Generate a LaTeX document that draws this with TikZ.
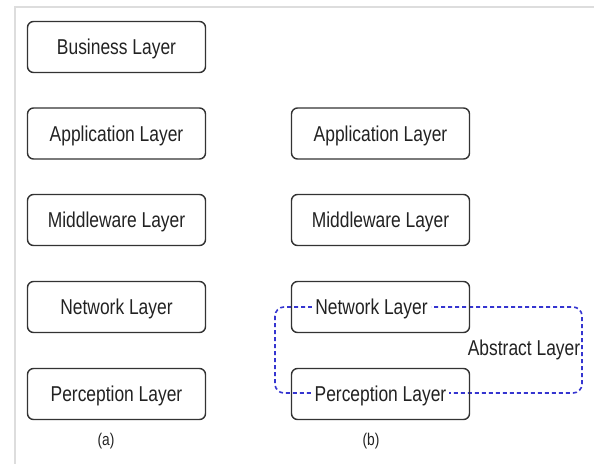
\documentclass[tikz,border=0pt]{standalone}
\usepackage{fontspec}
\setmainfont[FakeStretch=0.81]{Liberation Sans}
\definecolor{frameGray}{HTML}{DDDDDD}
\definecolor{boxLine}{HTML}{333333}
\definecolor{textDark}{HTML}{222222}
\definecolor{abstractBlue}{HTML}{3535D0}
\newcommand{\masked}[1]{{\setlength{\fboxsep}{3pt}\colorbox{white}{\vphantom{A}#1}}}
\begin{document}
\begin{tikzpicture}[x=1pt,y=-1pt,
  layer/.style={draw=boxLine, line width=1.4pt, rounded corners=6pt,
    minimum width=178pt, minimum height=51pt, inner sep=0pt,
    text height=15pt, text depth=0pt,
    text=textDark, font=\fontsize{21.5}{25}\selectfont},
  abstract/.style={draw=abstractBlue, line width=1.6pt,
    dash pattern=on 4pt off 3pt, rounded corners=9pt},
  caption/.style={text=textDark, font=\fontsize{17}{20}\selectfont},
  tag/.style={text=textDark, fill=white, inner sep=1pt,
    font=\fontsize{21.5}{25}\selectfont}]
\useasboundingbox (0,0) rectangle (594,464);
% light page frame
\draw[frameGray, line width=2pt] (594,7) -- (15,7) -- (15,464);

% (a) full stack
\node[layer] (busA) at (116.5,47)  {Business Layer};
\node[layer] (appA) at (116.5,133.5) {Application Layer};
\node[layer] (midA) at (116.5,220) {Middleware Layer};
\node[layer] (netA) at (116.5,307) {Network Layer};
\node[layer] (perA) at (116.5,394) {Perception Layer};
\node[caption] (capA) at (106,441) {(a)};

% (b) stack with abstract layer
\draw[abstract] (275,307) rectangle (582,393);
\node[layer] (appB) at (380.5,133.5) {Application Layer};
\node[layer] (midB) at (380.5,220) {Middleware Layer};
\node[layer] (netB) at (380.5,307) {\hspace*{-18pt}\masked{Network Layer}};
\node[layer] (perB) at (380.5,394) {\masked{Perception Layer}};
\node[tag] (absB) at (524,350) {Abstract Layer};
\node[caption] (capB) at (371,441) {(b)};
\end{tikzpicture}
\end{document}
